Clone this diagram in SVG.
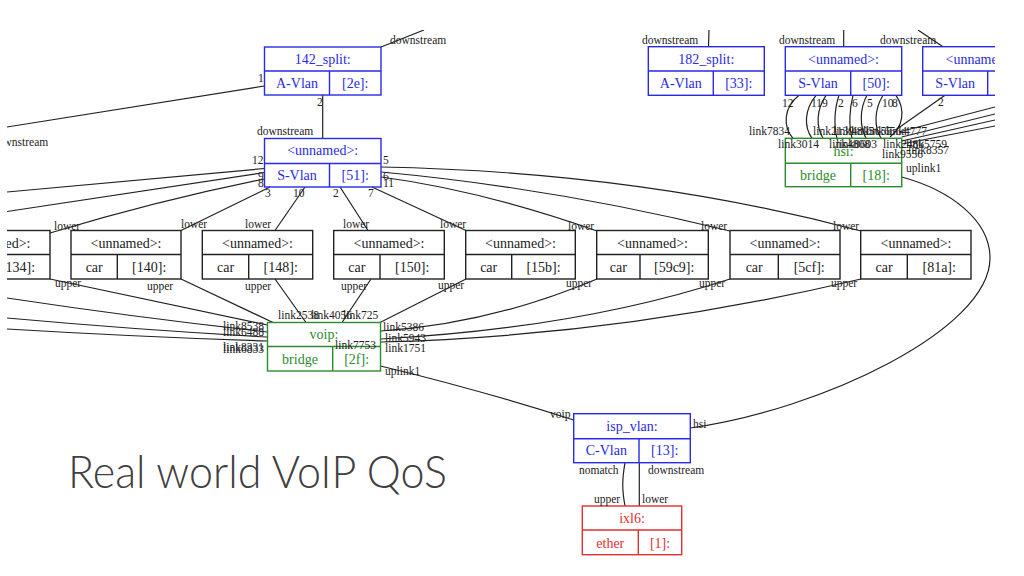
<svg xmlns="http://www.w3.org/2000/svg" width="1024" height="576" viewBox="0 0 1024 576">
<style>
.bx{fill:none;stroke-width:1.4}
.b{stroke:#2a2ae6}
.g{stroke:#2a8c2a}
.r{stroke:#e03030}
.k{stroke:#222}
.t{font-family:"Liberation Serif","Times New Roman",serif;font-size:14px;text-anchor:middle}
.tb{fill:#2a2ae6}
.tg{fill:#2a8c2a}
.tr{fill:#e03030}
.tk{fill:#222}
.l{font-family:"Liberation Serif","Times New Roman",serif;font-size:11.5px;fill:#222}
.e{fill:none;stroke:#222;stroke-width:1.2}
</style>
<defs>
<clipPath id="cp"><rect x="7" y="30" width="988" height="540"/></clipPath>
</defs>
<rect width="1024" height="576" fill="#fff"/>
<g clip-path="url(#cp)">
<g id="connectors">
<path class="e" d="M264.5,86 L7,127"/>
<path class="e" d="M381,47 L424,30"/>
<path class="e" d="M322.7,95 L322.7,138.5"/>
<path class="e" d="M264.5,168.5 L7,192"/>
<path class="e" d="M264.5,172.5 L7,211.5"/>
<path class="e" d="M264.5,179 Q160,200 50,233"/>
<path class="e" d="M270,187 L181,230.5"/>
<path class="e" d="M305,187 L275,230.5"/>
<path class="e" d="M340,187 L368,230.5"/>
<path class="e" d="M372,187 L466,230.5"/>
<path class="e" d="M381,177 Q480,190 597,231"/>
<path class="e" d="M381,172 Q555,188 730,231"/>
<path class="e" d="M381,167 Q640,172 861,231"/>
<path class="e" d="M50,279 L267.5,325"/>
<path class="e" d="M181,279 L273,322.5"/>
<path class="e" d="M275,279 L306,322.5"/>
<path class="e" d="M371,279 L342,322.5"/>
<path class="e" d="M466,279 L380,322.5"/>
<path class="e" d="M597,279 Q490,324 381,331"/>
<path class="e" d="M730,279 Q580,328 381,339"/>
<path class="e" d="M861,279 Q620,336 381,342"/>
<path class="e" d="M7,298 Q140,318 267.5,332"/>
<path class="e" d="M7,318 Q140,330 267.5,337"/>
<path class="e" d="M7,329 Q140,337 267.5,341"/>
<path class="e" d="M380.5,366 Q480,390 573.7,420"/>
<path class="e" d="M901.7,177 C950,190 990,220 990,258 C990,330 820,410 690.3,428"/>
<path class="e" d="M625,462.7 C622,480 622,490 625,506"/>
<path class="e" d="M639.3,462.7 L639.3,506"/>
<path class="e" d="M709,30 L708.5,46.7"/>
<path class="e" d="M843.7,30 L843.7,46.7"/>
<path class="e" d="M918,30 L943,46.7"/>
<path class="e" d="M799,95.3 C783,108 783,127 793,138.3"/>
<path class="e" d="M816,95.3 C804,110 804,127 812,138.3"/>
<path class="e" d="M826,95.3 C816,110 816,127 823,138.3"/>
<path class="e" d="M839,95.3 C834,110 834,127 837,138.3"/>
<path class="e" d="M853,95.3 C849,110 849,127 852,138.3"/>
<path class="e" d="M867,95.3 C859,110 860,127 866,138.3"/>
<path class="e" d="M883,95.3 C874,110 874,127 881,138.3"/>
<path class="e" d="M896,95.3 C906,110 903,127 890,137"/>
<path class="e" d="M945,95.3 L897,129"/>
<path class="e" d="M995,107 L899,132"/>
<path class="e" d="M995,114 L901.7,137"/>
<path class="e" d="M995,120 L901.7,141"/>
<path class="e" d="M995,126 L901.7,144"/>
</g>

<g id="n142">
<rect class="bx b" x="264.5" y="47" width="116.5" height="48"/>
<path class="bx b" d="M264.5,71 H381 M329.5,71 V95"/>
<text class="t tb" x="322.7" y="63.5">142_split:</text>
<text class="t tb" x="297" y="88">A-Vlan</text>
<text class="t tb" x="355.2" y="88">[2e]:</text>
</g>

<g id="n51">
<rect class="bx b" x="264.5" y="138.5" width="116.5" height="48.5"/>
<path class="bx b" d="M264.5,163.5 H381 M329.5,163.5 V187"/>
<text class="t tb" x="322.7" y="155">&lt;unnamed&gt;:</text>
<text class="t tb" x="297" y="179.5">S-Vlan</text>
<text class="t tb" x="355.2" y="179.5">[51]:</text>
</g>

<g id="n134">
<rect class="bx k" x="-60" y="230.5" width="110" height="48.5"/>
<path class="bx k" d="M-60,254.5 H50 M-14,254.5 V279"/>
<text class="t tk" x="-5" y="247.5">&lt;unnamed&gt;:</text>
<text class="t tk" x="18" y="271.5">[134]:</text>
</g>
<g id="n140">
<rect class="bx k" x="71" y="230.5" width="110" height="48.5"/>
<path class="bx k" d="M71,254.5 H181 M117.3,254.5 V279"/>
<text class="t tk" x="126" y="247.5">&lt;unnamed&gt;:</text>
<text class="t tk" x="94.2" y="271.5">car</text>
<text class="t tk" x="149.2" y="271.5">[140]:</text>
</g>
<g id="n148">
<rect class="bx k" x="202.3" y="230.5" width="110.4" height="48.5"/>
<path class="bx k" d="M202.3,254.5 H312.7 M248.7,254.5 V279"/>
<text class="t tk" x="257.5" y="247.5">&lt;unnamed&gt;:</text>
<text class="t tk" x="225.5" y="271.5">car</text>
<text class="t tk" x="280.7" y="271.5">[148]:</text>
</g>
<g id="n150">
<rect class="bx k" x="333.7" y="230.5" width="110.6" height="48.5"/>
<path class="bx k" d="M333.7,254.5 H444.3 M380,254.5 V279"/>
<text class="t tk" x="389" y="247.5">&lt;unnamed&gt;:</text>
<text class="t tk" x="356.8" y="271.5">car</text>
<text class="t tk" x="412.2" y="271.5">[150]:</text>
</g>
<g id="n15b">
<rect class="bx k" x="465.7" y="230.5" width="109.6" height="48.5"/>
<path class="bx k" d="M465.7,254.5 H575.3 M511.7,254.5 V279"/>
<text class="t tk" x="520.5" y="247.5">&lt;unnamed&gt;:</text>
<text class="t tk" x="488.7" y="271.5">car</text>
<text class="t tk" x="543.5" y="271.5">[15b]:</text>
</g>
<g id="n59c9">
<rect class="bx k" x="596.7" y="230.5" width="111.6" height="48.5"/>
<path class="bx k" d="M596.7,254.5 H708.3 M640,254.5 V279"/>
<text class="t tk" x="652.5" y="247.5">&lt;unnamed&gt;:</text>
<text class="t tk" x="618.3" y="271.5">car</text>
<text class="t tk" x="674.2" y="271.5">[59c9]:</text>
</g>
<g id="n5cf">
<rect class="bx k" x="730" y="230.5" width="110" height="48.5"/>
<path class="bx k" d="M730,254.5 H840 M778.3,254.5 V279"/>
<text class="t tk" x="785" y="247.5">&lt;unnamed&gt;:</text>
<text class="t tk" x="754.2" y="271.5">car</text>
<text class="t tk" x="809.2" y="271.5">[5cf]:</text>
</g>
<g id="n81a">
<rect class="bx k" x="860.7" y="230.5" width="110.3" height="48.5"/>
<path class="bx k" d="M860.7,254.5 H971 M907.3,254.5 V279"/>
<text class="t tk" x="916" y="247.5">&lt;unnamed&gt;:</text>
<text class="t tk" x="884" y="271.5">car</text>
<text class="t tk" x="939.2" y="271.5">[81a]:</text>
</g>

<g id="voip">
<rect class="bx g" x="267.5" y="322.5" width="113" height="48.5"/>
<path class="bx g" d="M267.5,346.5 H380.5 M332.7,346.5 V371"/>
<text class="t tg" x="324" y="338.5">voip:</text>
<text class="t tg" x="300" y="364">bridge</text>
<text class="t tg" x="356.6" y="364">[2f]:</text>
</g>

<g id="isp_vlan">
<rect class="bx b" x="573.7" y="413.7" width="116.6" height="49"/>
<path class="bx b" d="M573.7,438.7 H690.3 M639,438.7 V462.7"/>
<text class="t tb" x="632" y="430.5">isp_vlan:</text>
<text class="t tb" x="606.3" y="455">C-Vlan</text>
<text class="t tb" x="664.7" y="455">[13]:</text>
</g>

<g id="ixl6">
<rect class="bx r" x="582.3" y="506" width="99.4" height="48.7"/>
<path class="bx r" d="M582.3,530 H681.7 M638.3,530 V554.7"/>
<text class="t tr" x="632" y="522.5">ixl6:</text>
<text class="t tr" x="610.3" y="547.5">ether</text>
<text class="t tr" x="660" y="547.5">[1]:</text>
</g>

<g id="n182">
<rect class="bx b" x="648.3" y="46.7" width="116" height="48.6"/>
<path class="bx b" d="M648.3,71 H764.3 M713.3,71 V95.3"/>
<text class="t tb" x="706.3" y="63.5">182_split:</text>
<text class="t tb" x="680.8" y="88">A-Vlan</text>
<text class="t tb" x="738.8" y="88">[33]:</text>
</g>

<g id="n50">
<rect class="bx b" x="785.3" y="46.7" width="116.4" height="48.6"/>
<path class="bx b" d="M785.3,71 H901.7 M850.7,71 V95.3"/>
<text class="t tb" x="843.5" y="63.5">&lt;unnamed&gt;:</text>
<text class="t tb" x="818" y="88">S-Vlan</text>
<text class="t tb" x="876.2" y="88">[50]:</text>
</g>

<g id="n_right">
<rect class="bx b" x="922.7" y="46.7" width="116.4" height="48.6"/>
<path class="bx b" d="M922.7,71 H1039 M987.7,71 V95.3"/>
<text class="t tb" x="981" y="63.5">&lt;unnamed&gt;:</text>
<text class="t tb" x="955.2" y="88">S-Vlan</text>
</g>

<g id="hsi">
<rect class="bx g" x="785.3" y="138.3" width="116.4" height="48.4"/>
<path class="bx g" d="M785.3,163.3 H901.7 M850.7,163.3 V186.7"/>
<text class="t tg" x="843.5" y="156">hsi:</text>
<text class="t tg" x="818" y="180">bridge</text>
<text class="t tg" x="876.2" y="180">[18]:</text>
</g>

<g id="edge-labels" class="l">
<text x="390" y="44">downstream</text>
<text x="258" y="82">1</text>
<text x="317" y="106">2</text>
<text x="257" y="135">downstream</text>
<text x="-8" y="146">downstream</text>
<text x="252" y="164">12</text>
<text x="383" y="164">5</text>
<text x="258" y="180">9</text>
<text x="258" y="187">8</text>
<text x="383" y="180">6</text>
<text x="383" y="187">11</text>
<text x="265" y="197">3</text>
<text x="293" y="197">10</text>
<text x="333" y="197">2</text>
<text x="368" y="197">7</text>
<text x="54" y="230">lower</text>
<text x="181" y="228">lower</text>
<text x="245" y="228">lower</text>
<text x="343" y="228">lower</text>
<text x="440" y="228">lower</text>
<text x="568" y="230">lower</text>
<text x="701" y="230">lower</text>
<text x="833" y="230">lower</text>
<text x="55" y="287">upper</text>
<text x="147" y="290">upper</text>
<text x="245" y="290">upper</text>
<text x="341" y="290">upper</text>
<text x="438" y="289">upper</text>
<text x="566" y="287">upper</text>
<text x="699" y="287">upper</text>
<text x="831" y="287">upper</text>
<text x="223" y="330">link8538</text>
<text x="223" y="336">link6488</text>
<text x="223" y="351">link8331</text>
<text x="223" y="352.5">link6833</text>
<text x="278" y="319">link2538</text>
<text x="311" y="319">link4056</text>
<text x="343" y="319">link725</text>
<text x="383" y="331">link5386</text>
<text x="385" y="342">link5943</text>
<text x="385" y="352">link1751</text>
<text x="335" y="349">link7753</text>
<text x="385" y="375">uplink1</text>
<text x="550" y="418">voip</text>
<text x="693" y="428">hsi</text>
<text x="579" y="474">nomatch</text>
<text x="648" y="474">downstream</text>
<text x="594" y="503">upper</text>
<text x="642" y="503">lower</text>
<text x="642" y="44">downstream</text>
<text x="779" y="44">downstream</text>
<text x="880" y="44">downstream</text>
<text x="782" y="107">12</text>
<text x="811" y="107">11</text>
<text x="822" y="107">9</text>
<text x="838" y="107">2</text>
<text x="852" y="107">6</text>
<text x="867" y="107">5</text>
<text x="882" y="107">10</text>
<text x="892" y="107">8</text>
<text x="938" y="106">2</text>
<text x="749" y="135">link7834</text>
<text x="813" y="135">link2139</text>
<text x="833" y="135">link4805</text>
<text x="851" y="135">link3655</text>
<text x="866" y="135">link6564</text>
<text x="886" y="135">link4777</text>
<text x="778" y="148">link3014</text>
<text x="829" y="148">link4808</text>
<text x="836" y="148">link8603</text>
<text x="883" y="148">link2486</text>
<text x="906" y="148">link5759</text>
<text x="908" y="154">link8357</text>
<text x="882" y="158">link9556</text>
<text x="906" y="172">uplink1</text>
</g>
</g>
<text x="68" y="488" font-family="Lato,'Open Sans',sans-serif" font-weight="300" font-size="46" fill="#404040" textLength="379" lengthAdjust="spacingAndGlyphs">Real world VoIP QoS</text>
</svg>
